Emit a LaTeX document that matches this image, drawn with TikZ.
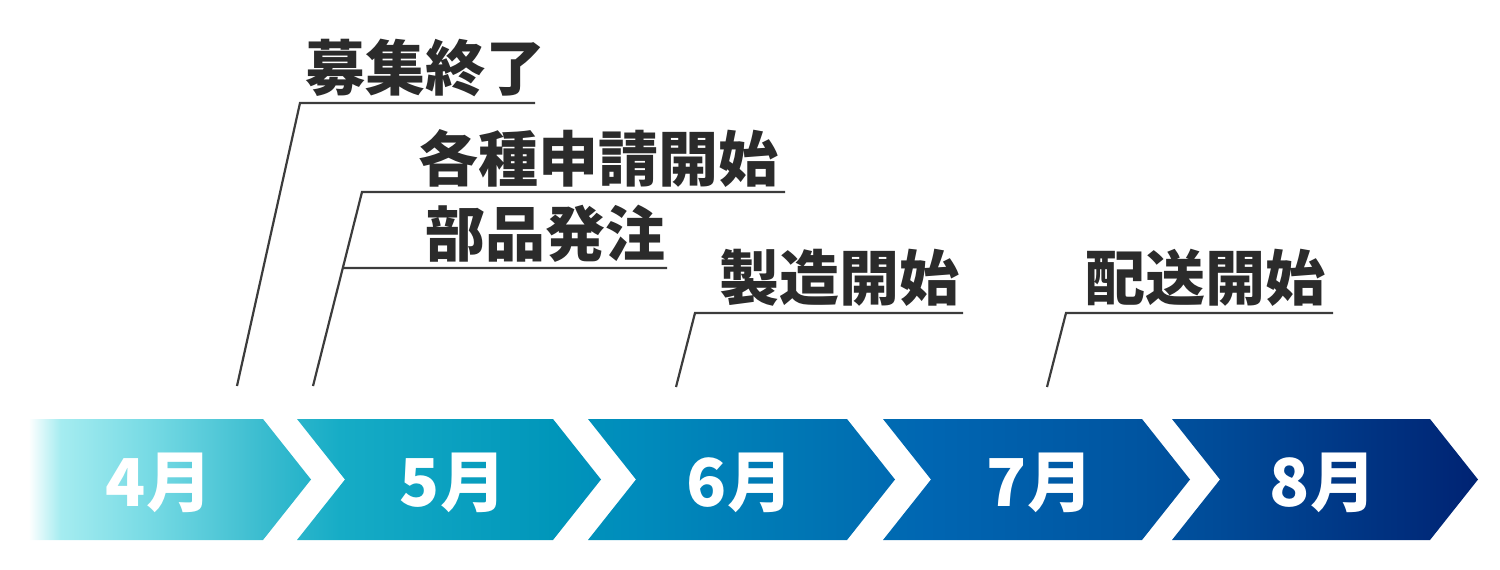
\documentclass[tikz,border=0pt]{standalone}
\usepackage{fontspec}
\setmainfont{Noto Sans CJK JP}
\usetikzlibrary{calc}
\definecolor{g0}{RGB}{255,255,255}
\definecolor{g1}{RGB}{165,236,240}
\definecolor{g2}{RGB}{118,218,228}
\definecolor{g3}{RGB}{58,188,207}
\definecolor{g4}{RGB}{22,172,198}
\definecolor{g5}{RGB}{0,150,186}
\definecolor{g6}{RGB}{0,140,188}
\definecolor{g7}{RGB}{0,112,178}
\definecolor{g8}{RGB}{0,102,178}
\definecolor{g9}{RGB}{0,84,160}
\definecolor{g10}{RGB}{0,75,152}
\definecolor{g11}{RGB}{0,35,115}
\definecolor{lead}{RGB}{60,60,60}
\definecolor{ink}{RGB}{43,43,43}
\pgfdeclarehorizontalshading{timeline}{100bp}{color(0bp)=(g0); color(25.3bp)=(g0); color(26.4bp)=(g1); color(29.46bp)=(g2); color(33.33bp)=(g3); color(35.97bp)=(g4); color(43.28bp)=(g5); color(46.02bp)=(g6); color(53.36bp)=(g7); color(56.1bp)=(g8); color(63.48bp)=(g9); color(66.05bp)=(g10); color(75bp)=(g11); color(100bp)=(g11)}
\tikzset{
  leader/.style={draw=lead, line width=2.2bp},
  lbl/.style={font=\bfseries\fontsize{60bp}{60bp}\selectfont, text=ink, inner sep=0pt},
  month/.style={font=\bfseries\fontsize{66bp}{66bp}\selectfont, text=white, inner sep=0pt}
}
\begin{document}
\begin{tikzpicture}[x=1bp,y=-1bp]
\useasboundingbox (0,0) rectangle (1500,570);
% chevron band
\path[shading=timeline]
  (20,419) -- (263,419) -- (311,479.5) -- (263,540) -- (20,540) -- cycle
  (297,419) -- (553,419) -- (601,479.5) -- (553,540) -- (297,540) -- (345,479.5) -- cycle
  (588,419) -- (847,419) -- (895,479.5) -- (847,540) -- (588,540) -- (636,479.5) -- cycle
  (883,419) -- (1142,419) -- (1190,479.5) -- (1142,540) -- (883,540) -- (931,479.5) -- cycle
  (1172,419) -- (1430,419) -- (1478,479.5) -- (1430,540) -- (1172,540) -- (1220,479.5) -- cycle;
% month labels
\node[month] (m4) at (159,483) {4月};
\node[month] (m5) at (453,483) {5月};
\node[month] (m6) at (740,483) {6月};
\node[month] (m7) at (1040,483) {7月};
\node[month] (m8) at (1323,483) {8月};
% leader coordinates
\coordinate (p1) at (237,386);
\coordinate (k1) at (300,103);
\coordinate (e1) at (535,103);
\coordinate (p2) at (313,386);
\coordinate (k2) at (362,192);
\coordinate (e2) at (785,192);
\coordinate (b2) at ($(p2)!0.608!(k2)$);
\coordinate (e3) at (667,268);
\coordinate (p4) at (676,387);
\coordinate (k4) at (695,313);
\coordinate (e4) at (963,313);
\coordinate (p5) at (1047,387);
\coordinate (k5) at (1066,313);
\coordinate (e5) at (1333,313);
% labels
\node[lbl] (t1) at (425,68) {募集終了};
\node[lbl] (t2) at (598,158) {各種申請開始};
\node[lbl] (t3) at (545,234) {部品発注};
\node[lbl] (t4) at (839,278) {製造開始};
\node[lbl] (t5) at (1205,278) {配送開始};
% leaders
\draw[leader] (p1) -- (k1) -- (e1);
\draw[leader] (p2) -- (k2) -- (e2);
\draw[leader] (b2) -- (e3);
\draw[leader] (p4) -- (k4) -- (e4);
\draw[leader] (p5) -- (k5) -- (e5);
\end{tikzpicture}
\end{document}
